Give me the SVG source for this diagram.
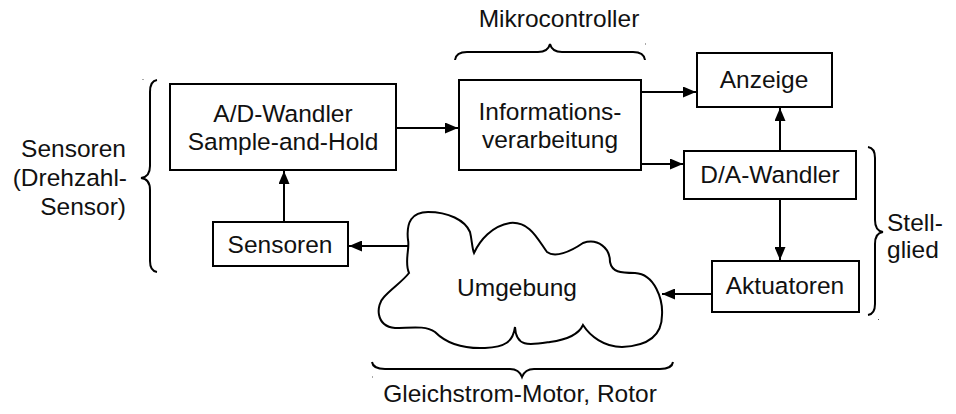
<svg xmlns="http://www.w3.org/2000/svg" width="956" height="414" viewBox="0 0 956 414">
  <style>
    .box { fill: #fff; stroke: #000; stroke-width: 2; }
    .lbl { font-family: "Liberation Sans", Arial, sans-serif; font-size: 24.5px; fill: #111; text-anchor: middle; }
    .side { font-family: "Liberation Sans", Arial, sans-serif; font-size: 24.5px; fill: #111; }
    .wire { fill: none; stroke: #000; stroke-width: 2; }
    .brace { fill: none; stroke: #000; stroke-width: 2; }
  </style>
  <defs>
    <marker id="arrow" viewBox="0 0 13 11" refX="13" refY="5.5" markerWidth="13" markerHeight="11" markerUnits="userSpaceOnUse" orient="auto">
      <path d="M0,0 L13,5.5 L0,11 Z" fill="#000"/>
    </marker>
  </defs>
  <rect width="956" height="414" fill="#fff"/>

  <!-- group captions -->
  <text class="lbl" x="559" y="27">Mikrocontroller</text>
  <text class="side" x="126" y="157" text-anchor="end">Sensoren</text>
  <text class="side" x="127" y="186" text-anchor="end">(Drehzahl-</text>
  <text class="side" x="126" y="215" text-anchor="end">Sensor)</text>
  <text class="side" x="887" y="231">Stell-</text>
  <text class="side" x="887" y="258">glied</text>
  <text class="lbl" x="520" y="402">Gleichstrom-Motor, Rotor</text>

  <!-- braces -->
  <g id="braces">
    <path class="brace" d="M157,80 Q150,81 150,92 L150,166 Q150,177 141,178 Q150,179 150,190 L150,261 Q150,271 157,272"/>
    <path class="brace" d="M455,60 Q456,52 467,52 L538,52 Q548,52 550,44 Q552,52 562,52 L633,52 Q644,52 645,60"/>
    <path class="brace" d="M868,147 Q875,148 875,158 L875,220 Q875,231 883,232 Q875,233 875,244 L875,304 Q875,314 868,315"/>
    <path class="brace" d="M372,362 Q373,369 385,369 L510,369 Q519,369 522,377 Q525,369 534,369 L660,369 Q672,369 673,362"/>
    <rect x="142.5" y="79" width="1" height="1" fill="#555"/>
    <rect x="645" y="43.5" width="1" height="1" fill="#555"/>
    <rect x="878" y="319" width="1" height="1" fill="#555"/>
    <rect x="372" y="376.5" width="1" height="1" fill="#555"/>
  </g>

  <!-- connectors -->
  <g id="connectors">
    <line class="wire" x1="396" y1="128" x2="458" y2="128" marker-end="url(#arrow)"/>
    <line class="wire" x1="641" y1="92" x2="696" y2="92" marker-end="url(#arrow)"/>
    <line class="wire" x1="641" y1="164" x2="683" y2="164" marker-end="url(#arrow)"/>
    <line class="wire" x1="780" y1="151" x2="780" y2="108" marker-end="url(#arrow)"/>
    <line class="wire" x1="780" y1="199" x2="780" y2="260" marker-end="url(#arrow)"/>
    <line class="wire" x1="712" y1="294" x2="662" y2="294" marker-end="url(#arrow)"/>
    <line class="wire" x1="408" y1="246" x2="349" y2="246" marker-end="url(#arrow)"/>
    <line class="wire" x1="284" y1="222" x2="284" y2="171" marker-end="url(#arrow)"/>
  </g>

  <g id="ad-wandler">
    <rect class="box" x="170" y="84" width="226" height="86"/>
    <text class="lbl" x="283" y="122">A/D-Wandler</text>
    <text class="lbl" x="283" y="150">Sample-and-Hold</text>
  </g>

  <g id="informationsverarbeitung">
    <rect class="box" x="459" y="80" width="182" height="90"/>
    <text class="lbl" x="550" y="120">Informations-</text>
    <text class="lbl" x="550" y="148">verarbeitung</text>
  </g>

  <g id="anzeige">
    <rect class="box" x="697" y="53" width="135" height="54"/>
    <text class="lbl" x="764" y="88">Anzeige</text>
  </g>

  <g id="da-wandler">
    <rect class="box" x="684" y="151" width="172" height="48"/>
    <text class="lbl" x="770" y="183">D/A-Wandler</text>
  </g>

  <g id="aktuatoren">
    <rect class="box" x="712" y="261" width="147" height="51"/>
    <text class="lbl" x="785" y="294">Aktuatoren</text>
  </g>

  <g id="sensoren">
    <rect class="box" x="213" y="222" width="135" height="44"/>
    <text class="lbl" x="280" y="253">Sensoren</text>
  </g>

  <g id="umgebung">
    <path class="box" d="M409,273 C404,262 410,248 408,240 C406,222 412,212 428,212 C448,212 465,220 470,232 C472,240 472,248 474,253 C480,240 492,226 510,223 C530,221 538,240 547,252 C555,258 570,252 583,243 C598,238 610,248 610,262 C612,272 620,273 635,273 C655,274 663,300 662,315 C662,338 645,346 622,347 C604,347 590,336 583,325 C578,336 565,340 550,342 C530,345 516,348 515,327 C513,342 505,347 485,348 C462,349 445,342 435,332 C425,325 410,328 395,328 C375,326 376,305 384,297 C392,288 402,282 409,273 Z"/>
    <text class="lbl" x="517" y="296">Umgebung</text>
  </g>
</svg>
